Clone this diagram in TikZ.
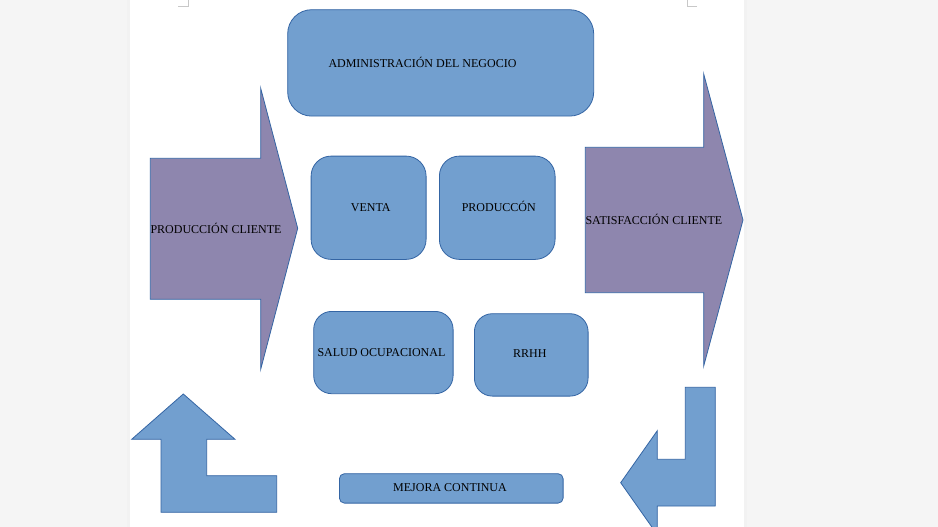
\documentclass[tikz,border=0pt]{standalone}
\usepackage{fontspec}
\setmainfont{Liberation Serif}
\definecolor{bg}{RGB}{245,245,245}
\definecolor{boxfill}{RGB}{114,159,207}
\definecolor{boxline}{RGB}{52,101,164}
\definecolor{purp}{RGB}{142,134,174}
\definecolor{markgray}{RGB}{200,200,200}
\begin{document}
\begin{tikzpicture}[x=1pt,y=-1pt,
  box/.style={draw=boxline, fill=boxfill, line width=0.8pt, anchor=north west, inner sep=0pt},
  purparrow/.style={draw=boxline, fill=purp, line width=0.8pt, line join=miter},
  bluearrow/.style={draw=boxline, fill=boxfill, line width=0.8pt, line join=miter},
  lbl/.style={inner sep=0pt, font=\fontsize{12}{14}\selectfont, text=black}]
\useasboundingbox (0,0) rectangle (938,527);
\fill[bg] (0,0) rectangle (938,527);
\fill[black!5] (127,0) rectangle (130,527);
\fill[black!5] (744,0) rectangle (747,527);
\fill[white] (130,0) rectangle (744,527);
% corner marks
\draw[markgray, line width=0.8pt] (178.3,6.7) -- (188.3,6.7) -- (188.3,0);
\draw[markgray, line width=0.8pt] (697,6.7) -- (687,6.7) -- (687,0);
% big arrows
\draw[purparrow] (150.3,158.3) -- (260.7,158.3) -- (260.7,88.3) -- (297.7,228.3) -- (260.7,369.3) -- (260.7,299.3) -- (150.3,299.3) -- cycle;
\node[lbl, anchor=base west] (prodcli) at (150.3,233.3) {PRODUCCIÓN CLIENTE};
\draw[purparrow] (585.3,147.3) -- (703.7,147.3) -- (703.7,74) -- (743,220) -- (703.7,366) -- (703.7,292.7) -- (585.3,292.7) -- cycle;
\node[lbl, anchor=base west] (satcli) at (585.3,224) {SATISFACCIÓN CLIENTE};
% bottom arrows
\draw[bluearrow] (183.3,394) -- (235,439.3) -- (206.7,439.3) -- (206.7,475.7) -- (276.7,475.7) -- (276.7,512.3) -- (161,512.3) -- (161,439.3) -- (131.7,439.3) -- cycle;
\draw[bluearrow] (685.3,387.3) -- (715.3,387.3) -- (715.3,506) -- (657.3,506) -- (657.3,534.7) -- (620.7,482.7) -- (657.3,430.7) -- (657.3,459.3) -- (685.3,459.3) -- cycle;
% boxes
\node[box, rounded corners=24pt, minimum width=306pt, minimum height=106.4pt] (admin) at (287.3,9.3) {};
\node[lbl, anchor=base west] (admintxt) at (328.3,67.7) {ADMINISTRACIÓN DEL NEGOCIO};
\node[box, rounded corners=20pt, minimum width=115pt, minimum height=103.3pt] (venta) at (310.7,155.7) {};
\node[lbl, anchor=base] (ventatxt) at (370.8,211.7) {VENTA};
\node[box, rounded corners=20pt, minimum width=115.7pt, minimum height=103.3pt] (prod) at (439,155.7) {};
\node[lbl, anchor=base] (prodtxt) at (498.8,211.7) {PRODUCCÓN};
\node[box, rounded corners=18pt, minimum width=139.4pt, minimum height=82.3pt] (salud) at (313.3,311) {};
\node[lbl, anchor=base west] (saludtxt) at (317.3,356) {SALUD OCUPACIONAL};
\node[box, rounded corners=18pt, minimum width=113.7pt, minimum height=82.4pt] (rrhh) at (474,313.3) {};
\node[lbl, anchor=base] (rrhhtxt) at (529.8,357.7) {RRHH};
\node[box, rounded corners=5pt, minimum width=223.7pt, minimum height=29.4pt] (mejora) at (339,473.3) {};
\node[lbl, anchor=base] (mejoratxt) at (450,491.7) {MEJORA CONTINUA};
\end{tikzpicture}
\end{document}
